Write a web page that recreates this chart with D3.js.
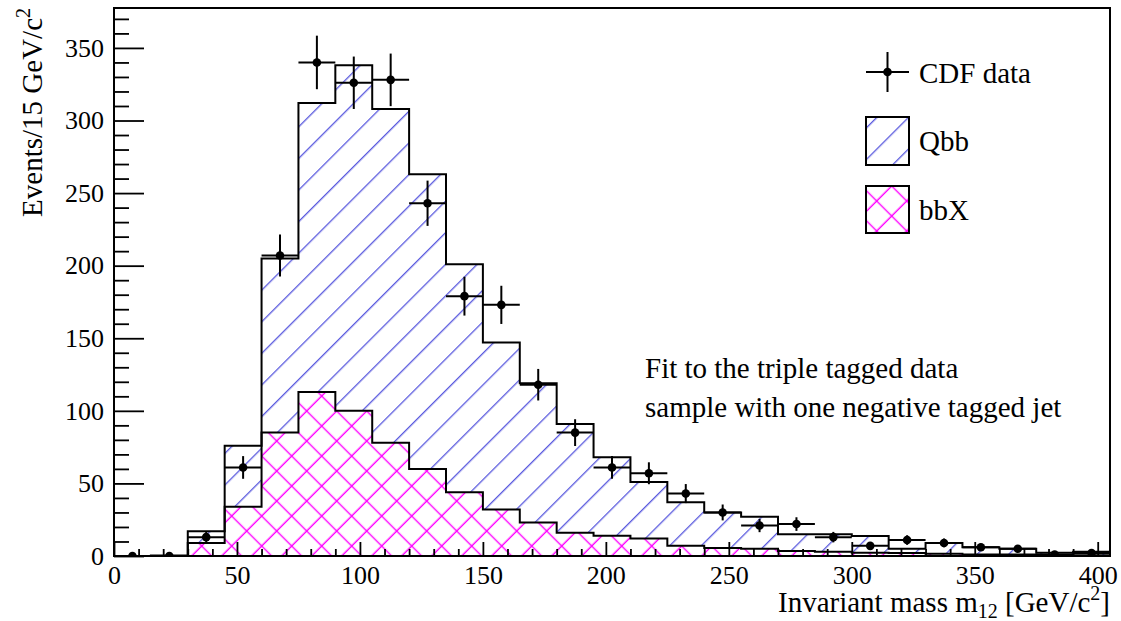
<!DOCTYPE html>
<html>
<head>
<meta charset="utf-8">
<script src="https://cdn.jsdelivr.net/npm/d3@7"></script>
<style>
  body { margin: 0; background: #fff; }
  svg text { font-family: "Liberation Serif", "Tinos", "Times New Roman", "DejaVu Serif", serif !important; fill: #000; }
</style>
</head>
<body>
<svg id="chart" width="1121" height="621"></svg>
<script>
// bins of 15 GeV/c^2, lower edges
const binLow = [0, 15, 30, 45, 60, 75, 90, 105, 120, 135, 150, 165, 180, 195,
                210, 225, 240, 255, 270, 285, 300, 315, 330, 345, 360, 375, 390];
const binWidth = 15;

// CDF data (events per bin)
const dataCounts = [0, 0, 13, 61, 207, 340, 326, 328, 243, 179, 173, 118, 85, 61,
                    57, 43, 30, 21, 22, 13, 7, 11, 9, 6, 5, 1, 2];

// fit: Qbb stacked on top of bbX (total)
const qbbTotal = [0, 0.3, 17, 76, 205, 312, 338, 308, 263, 201, 147, 119, 91, 68,
                  51, 37, 30, 27, 15, 15, 13.7, 5, 9, 6, 5, 2.3, 3];

// bbX component
const bbxFit = [0, 0, 9, 34, 85, 113, 100, 78, 60, 44, 32, 23, 16, 14,
                12, 7, 5.5, 5, 3.5, 3, 2.3, 2, 1.5, 1, 1, 0.5, 0.5];

const xMajor = [0, 50, 100, 150, 200, 250, 300, 350, 400];
const xMinor = [10, 20, 30, 40, 60, 70, 80, 90, 110, 120, 130, 140, 160, 170, 180, 190,
                210, 220, 230, 240, 260, 270, 280, 290, 310, 320, 330, 340, 360, 370, 380, 390];
const yMajor = [0, 50, 100, 150, 200, 250, 300, 350];
const yMinor = [10, 20, 30, 40, 60, 70, 80, 90, 110, 120, 130, 140, 160, 170, 180, 190,
                210, 220, 230, 240, 260, 270, 280, 290, 310, 320, 330, 340, 360, 370];

const legendItems = ["CDF data", "Qbb", "bbX"];
const noteLines = ["Fit to the triple tagged data", "sample with one negative tagged jet"];

const dims = { left: 114, right: 1110, top: 8, bottom: 556 };

const svg = d3.select("#chart");

const x = d3.scaleLinear().domain([0, 405]).range([dims.left, dims.right]);
const y = d3.scaleLinear().domain([0, 377.5]).range([dims.bottom, dims.top]);

// ---- hatch patterns
const defs = svg.append("defs");
function hatch(id, spacing, offset, angle, color, width) {
  // spacing / offset measured along a horizontal line in screen px
  const s = spacing / Math.SQRT2;
  const p = defs.append("pattern")
      .attr("id", id)
      .attr("patternUnits", "userSpaceOnUse")
      .attr("width", s)
      .attr("height", s)
      .attr("patternTransform", `rotate(${angle})`);
  const u = ((offset / Math.SQRT2) % s + s) % s;
  p.append("line")
      .attr("x1", u).attr("x2", u)
      .attr("y1", -1).attr("y2", s + 1)
      .attr("stroke", color)
      .attr("stroke-width", width);
}
hatch("qbbHatch", 31.6, 14.7, 45, "#5050dc", 1.25);
hatch("bbxHatchA", 30, 27.7, 45, "#ff00ff", 1.4);
hatch("bbxHatchB", 30, 15.7, -45, "#ff00ff", 1.4);

defs.append("clipPath").attr("id", "plotClip")
  .append("rect")
    .attr("x", dims.left).attr("y", dims.top)
    .attr("width", dims.right - dims.left).attr("height", dims.bottom - dims.top);

// histogram points: add the upper edge of the last bin so the step closes
function stepPoints(values) {
  const pts = binLow.map((b, i) => [b, values[i]]);
  pts.push([binLow[binLow.length - 1] + binWidth, values[values.length - 1]]);
  return pts;
}

const area = d3.area()
    .x(d => x(d[0]))
    .y0(y(0))
    .y1(d => y(d[1]))
    .curve(d3.curveStepAfter);
const line = d3.line()
    .x(d => x(d[0]))
    .y(d => y(d[1]))
    .curve(d3.curveStepAfter);

const plot = svg.append("g").attr("clip-path", "url(#plotClip)");

// total fit (Qbb on top)
const totPts = stepPoints(qbbTotal);
plot.append("path").attr("d", area(totPts)).attr("fill", "#fff");
plot.append("path").attr("d", area(totPts)).attr("fill", "url(#qbbHatch)");

// bbX component, covers the blue hatch
const bbxPts = stepPoints(bbxFit);
plot.append("path").attr("d", area(bbxPts)).attr("fill", "#fff");
plot.append("path").attr("d", area(bbxPts)).attr("fill", "url(#bbxHatchA)");
plot.append("path").attr("d", area(bbxPts)).attr("fill", "url(#bbxHatchB)");

plot.append("path").attr("d", line(totPts))
    .attr("fill", "none").attr("stroke", "#000").attr("stroke-width", 2);
plot.append("path").attr("d", line(bbxPts))
    .attr("fill", "none").attr("stroke", "#000").attr("stroke-width", 2);

// data points with sqrt(N) errors
const pts = dataCounts.map((n, i) => ({ lo: binLow[i], n: n }));
const pg = plot.append("g").attr("stroke", "#000").attr("stroke-width", 2);
pg.selectAll("line.h")
  .data(pts.filter(d => d.n > 0))
  .enter().append("line")
    .attr("x1", d => x(d.lo)).attr("x2", d => x(d.lo + binWidth))
    .attr("y1", d => y(d.n)).attr("y2", d => y(d.n));
pg.selectAll("line.v")
  .data(pts.filter(d => d.n > 0))
  .enter().append("line")
    .attr("x1", d => x(d.lo + binWidth / 2)).attr("x2", d => x(d.lo + binWidth / 2))
    .attr("y1", d => y(d.n - Math.sqrt(d.n))).attr("y2", d => y(d.n + Math.sqrt(d.n)));
plot.selectAll("circle")
  .data(pts)
  .enter().append("circle")
    .attr("cx", d => x(d.lo + binWidth / 2))
    .attr("cy", d => y(d.n))
    .attr("r", 4.3)
    .attr("fill", "#000");

// ---- axes (ticks point inward, ROOT style)
const xAxis = svg.append("g")
    .attr("transform", `translate(0,${dims.bottom})`)
    .call(d3.axisBottom(x).tickValues(xMajor).tickSize(-14).tickPadding(10).tickFormat(d3.format("d")));
svg.append("g")
    .attr("transform", `translate(0,${dims.bottom})`)
    .call(d3.axisBottom(x).tickValues(xMinor).tickSize(-7).tickFormat(""))
    .call(g => g.select(".domain").remove());

const yAxis = svg.append("g")
    .attr("transform", `translate(${dims.left},0)`)
    .call(d3.axisLeft(y).tickValues(yMajor).tickSize(-30).tickPadding(10).tickFormat(d3.format("d")));
svg.append("g")
    .attr("transform", `translate(${dims.left},0)`)
    .call(d3.axisLeft(y).tickValues(yMinor).tickSize(-15).tickFormat(""))
    .call(g => g.select(".domain").remove());

svg.selectAll(".tick line").attr("stroke", "#000").attr("stroke-width", 1.8);
svg.selectAll(".domain").remove();
xAxis.selectAll("text").attr("font-size", 26);
yAxis.selectAll("text").attr("font-size", 26);

// frame
svg.append("rect")
    .attr("x", dims.left).attr("y", dims.top)
    .attr("width", dims.right - dims.left).attr("height", dims.bottom - dims.top)
    .attr("fill", "none").attr("stroke", "#000").attr("stroke-width", 2);

// axis titles
const xt = svg.append("text")
    .attr("x", dims.right).attr("y", 612)
    .attr("text-anchor", "end")
    .attr("font-size", 29);
xt.append("tspan").text("Invariant mass m");
xt.append("tspan").attr("font-size", 20).attr("dy", 6).text("12");
xt.append("tspan").attr("dy", -6).text(" [GeV/c");
xt.append("tspan").attr("font-size", 20).attr("dy", -12).text("2");
xt.append("tspan").attr("dy", 12).text("]");

const yt = svg.append("text")
    .attr("transform", `translate(42,${dims.top}) rotate(-90)`)
    .attr("text-anchor", "end")
    .attr("font-size", 29);
yt.append("tspan").text("Events/15 GeV/c");
yt.append("tspan").attr("font-size", 20).attr("dy", -12).text("2");

// ---- legend
const leg = svg.append("g");
// data entry
leg.append("line").attr("x1", 866).attr("x2", 909).attr("y1", 72).attr("y2", 72)
    .attr("stroke", "#000").attr("stroke-width", 2);
leg.append("line").attr("x1", 887.5).attr("x2", 887.5).attr("y1", 52).attr("y2", 92)
    .attr("stroke", "#000").attr("stroke-width", 2);
leg.append("circle").attr("cx", 887.5).attr("cy", 72).attr("r", 4.3).attr("fill", "#000");
// Qbb box
leg.append("rect").attr("x", 866).attr("y", 117).attr("width", 43).attr("height", 48)
    .attr("fill", "url(#qbbHatch)").attr("stroke", "#000").attr("stroke-width", 2);
// bbX box
leg.append("rect").attr("x", 866).attr("y", 186).attr("width", 43).attr("height", 47)
    .attr("fill", "url(#bbxHatchA)");
leg.append("rect").attr("x", 866).attr("y", 186).attr("width", 43).attr("height", 47)
    .attr("fill", "url(#bbxHatchB)").attr("stroke", "#000").attr("stroke-width", 2);

leg.selectAll("text")
  .data(legendItems)
  .enter().append("text")
    .attr("x", 919)
    .attr("y", (d, i) => [83, 151, 220][i])
    .attr("font-size", 29)
    .text(d => d);

// annotation
svg.selectAll("text.note")
  .data(noteLines)
  .enter().append("text")
    .attr("class", "note")
    .attr("x", 645)
    .attr("y", (d, i) => 378 + i * 39)
    .attr("font-size", 29)
    .text(d => d);
</script>
</body>
</html>
